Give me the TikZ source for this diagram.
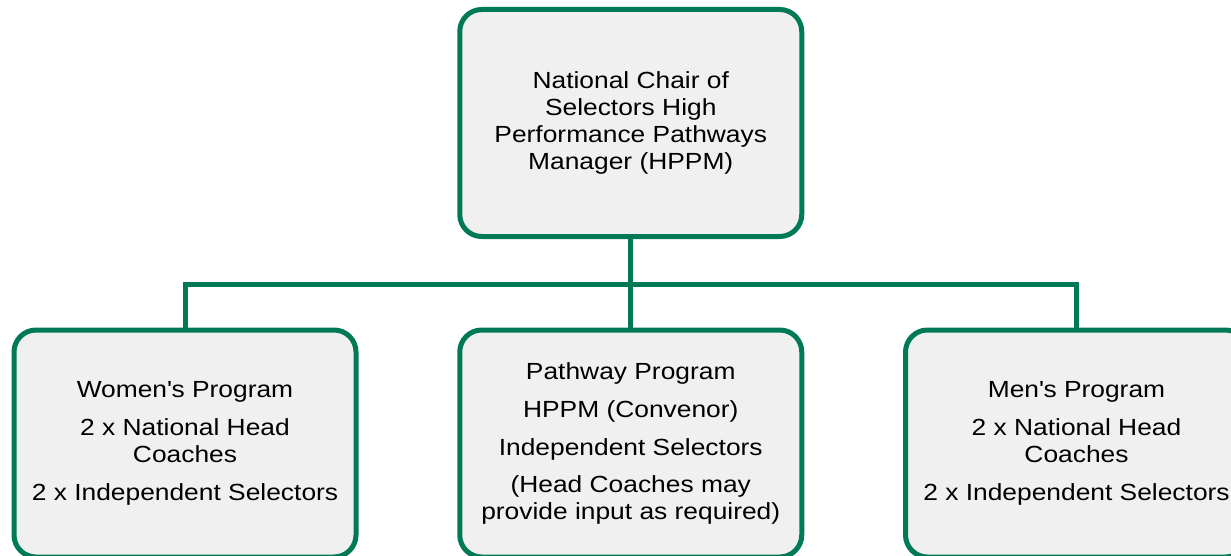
\documentclass[tikz,border=0pt]{standalone}
\usepackage{fontspec}
\setmainfont[FakeStretch=1.13]{Liberation Sans}
\definecolor{boxgreen}{RGB}{0,122,86}
\definecolor{boxfill}{RGB}{240,240,240}
\begin{document}
\begin{tikzpicture}[x=0.75pt,y=-0.75pt,
  orgbox/.style={draw=boxgreen, fill=boxfill, line width=3.75pt, rounded corners=16.5pt,
    inner sep=0pt, align=center, font=\fontsize{17.5}{20.1}\selectfont,
    minimum width=256.5pt},
  link/.style={draw=boxgreen, line width=3.75pt}]
\useasboundingbox (0,0) rectangle (1231,556);
\clip (0,0) rectangle (1231,556);
\node[orgbox, minimum height=170.25pt] (top) at (630.75,123)
  {National Chair of\\Selectors High\\Performance Pathways\\Manager (HPPM)};
\node[orgbox, minimum height=170.25pt] (women) at (185,443.5)
  {Women\textquotesingle s Program\\[8.5pt]2 x National Head\\Coaches\\[8.5pt]2 x Independent Selectors};
\node[orgbox, minimum height=170.25pt] (pathway) at (630.75,443.5)
  {Pathway Program\\[8.25pt]HPPM (Convenor)\\[8.25pt]Independent Selectors\\[8.25pt](Head Coaches may\\provide input as required)};
\node[orgbox, minimum height=170.25pt] (men) at (1076.5,443.5)
  {Men\textquotesingle s Program\\[8.5pt]2 x National Head\\Coaches\\[8.5pt]2 x Independent Selectors};
\coordinate (bus) at (630.75,284.5);
\draw[link] (top.south) -- (pathway.north);
\draw[link] (women.north) -- (women.north |- bus) -- (men.north |- bus) -- (men.north);
\end{tikzpicture}
\end{document}
